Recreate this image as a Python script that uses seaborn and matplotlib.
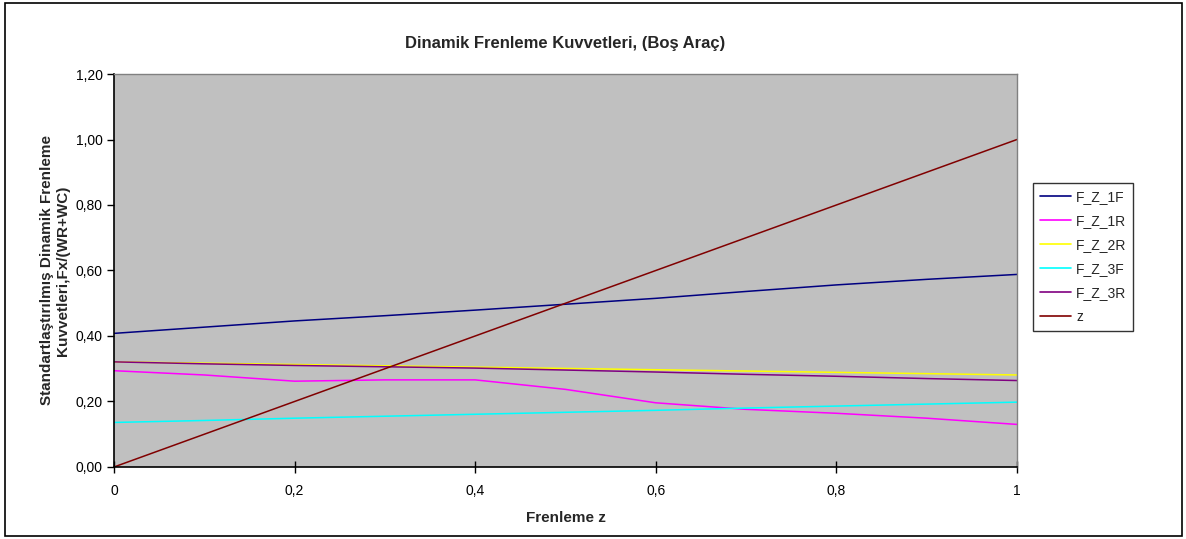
import matplotlib
matplotlib.use("Agg")
import matplotlib.pyplot as plt
import seaborn as sns
import pandas as pd
from matplotlib.ticker import FuncFormatter, FixedLocator

# Braking ratio z
z_values = [0.0, 0.1, 0.2, 0.3, 0.4, 0.5, 0.6, 0.7, 0.8, 0.9, 1.0]

# Normalised dynamic braking forces per axle
f_z_1f = [0.408, 0.427, 0.446, 0.462, 0.479, 0.497, 0.515, 0.536, 0.556, 0.573, 0.588]
f_z_1r = [0.294, 0.281, 0.262, 0.266, 0.266, 0.237, 0.196, 0.176, 0.164, 0.149, 0.130]
f_z_2r = [0.321, 0.317, 0.313, 0.309, 0.305, 0.301, 0.297, 0.293, 0.289, 0.285, 0.281]
f_z_3f = [0.136, 0.142, 0.149, 0.155, 0.161, 0.167, 0.173, 0.180, 0.186, 0.192, 0.198]
f_z_3r = [0.321, 0.315, 0.310, 0.306, 0.302, 0.296, 0.290, 0.283, 0.277, 0.270, 0.264]
z_line = [0.0, 0.1, 0.2, 0.3, 0.4, 0.5, 0.6, 0.7, 0.8, 0.9, 1.0]

series_names = ["F_Z_1F", "F_Z_1R", "F_Z_2R", "F_Z_3F", "F_Z_3R", "z"]
series_values = [f_z_1f, f_z_1r, f_z_2r, f_z_3f, f_z_3r, z_line]
series_colors = ["#000080", "#FF00FF", "#FFFF00", "#00FFFF", "#800080", "#800000"]

x_ticks = [0, 0.2, 0.4, 0.6, 0.8, 1.0]
y_ticks = [0.0, 0.2, 0.4, 0.6, 0.8, 1.0, 1.2]

rows = []
for name, vals in zip(series_names, series_values):
    for x, y in zip(z_values, vals):
        rows.append({"z": x, "F": y, "Seri": name})
df = pd.DataFrame(rows)

sns.set_theme(style="white")
plt.rcParams["font.family"] = ["Liberation Sans", "DejaVu Sans"]

fig = plt.figure(figsize=(11.86, 5.39), dpi=100)
ax = fig.add_axes([0.0961, 0.1336, 0.7614, 0.7291])

sns.lineplot(data=df, x="z", y="F", hue="Seri", hue_order=series_names,
             palette=dict(zip(series_names, series_colors)),
             linewidth=1.1, ax=ax, legend=True, sort=False)

ax.set_facecolor("#C0C0C0")
ax.set_xlim(0, 1)
ax.set_ylim(0, 1.2)
ax.xaxis.set_major_locator(FixedLocator(x_ticks))
ax.yaxis.set_major_locator(FixedLocator(y_ticks))
ax.xaxis.set_major_formatter(FuncFormatter(lambda v, p: ("%g" % v).replace(".", ",")))
ax.yaxis.set_major_formatter(FuncFormatter(lambda v, p: ("%.2f" % v).replace(".", ",")))
ax.tick_params(axis="x", direction="inout", length=9, width=1, colors="black",
               labelsize=10, pad=8)
ax.tick_params(axis="y", direction="out", length=5, width=1, colors="black",
               labelsize=10, pad=3)
ax.tick_params(axis="both", which="both", bottom=True, left=True)

for side in ["left", "bottom"]:
    ax.spines[side].set_color("black")
    ax.spines[side].set_linewidth(1.2)
for side in ["top", "right"]:
    ax.spines[side].set_color("#808080")
    ax.spines[side].set_linewidth(1.0)

ax.set_xlabel("Frenleme z", fontsize=11, fontweight="bold", labelpad=9)
ax.set_ylabel("Standartlaştırılmış Dinamik Frenleme\nKuvvetleri,Fx/(WR+WC)",
              fontsize=11, fontweight="bold", labelpad=4, linespacing=1.2)
fig.text(0.4768, 0.92, "Dinamik Frenleme Kuvvetleri, (Boş Araç)",
         ha="center", va="center", fontsize=12, fontweight="bold")

handles, labels = ax.get_legend_handles_labels()
leg = ax.legend(handles, labels, loc="upper left", bbox_to_anchor=(0.8710, 0.661),
                bbox_transform=fig.transFigure, frameon=True, fancybox=False,
                edgecolor="black", facecolor="white", fontsize=10,
                handlelength=2.25, handletextpad=0.35, labelspacing=0.72,
                borderpad=0.5, borderaxespad=0)
leg.get_frame().set_linewidth(1.0)
for line in leg.get_lines():
    line.set_linewidth(1.2)

# outer chart border
fig.patches.append(plt.Rectangle((0.004, 0.006), 0.993, 0.988, transform=fig.transFigure,
                                 fill=False, edgecolor="black", linewidth=1.2))

fig.savefig("out.png", dpi=100)
